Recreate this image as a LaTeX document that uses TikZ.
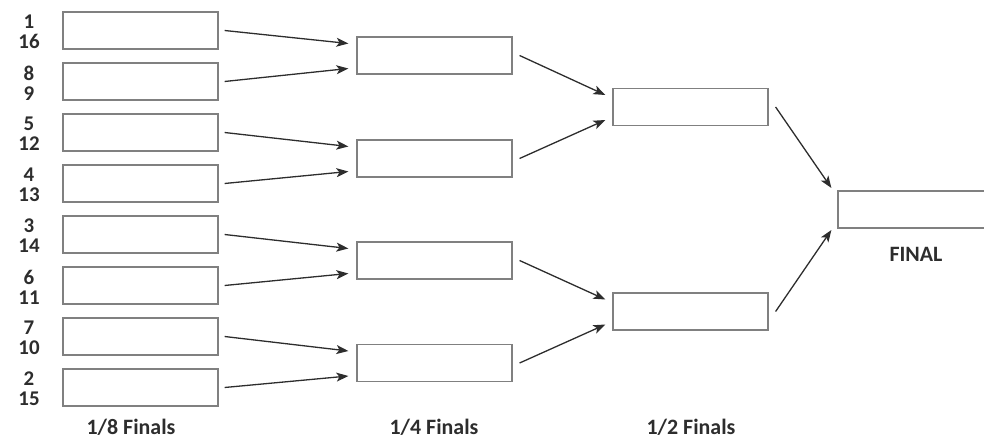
\documentclass[tikz,border=0pt]{standalone}
\usepackage{fontspec}
\setmainfont{Carlito}
\usepackage{xcolor}
\usepackage{tikz}
\usetikzlibrary{arrows.meta}
\definecolor{boxgray}{RGB}{128,128,128}
\definecolor{inkdark}{RGB}{45,45,45}

\begin{document}
\begin{tikzpicture}[
  x=1bp, y=-1bp,
  slot/.style={
    draw=boxgray, line width=1.2bp, minimum width=155bp,
    minimum height=37bp, inner sep=0pt
  },
  seed/.style={
    font=\fontsize{21}{20}\selectfont\bfseries, text=inkdark, align=center
  },
  roundlbl/.style={font=\fontsize{22}{24}\selectfont\bfseries, text=inkdark},
  arr/.style={-{Stealth[length=12bp, width=9bp, inset=3bp]}, line width=1.3bp, inkdark},
]
\useasboundingbox (0,0) rectangle (984,440);

%% ---- 1/8 finals (seeds and slots) ----
\foreach \i/\a/\b in {1/1/16, 2/8/9, 3/5/12, 4/4/13, 5/3/14, 6/6/11, 7/7/10, 8/2/15}{
  \node[slot] (e\i) at (140.5, {30.5+51*(\i-1)}) {};
  \node[seed] (n\i) at (29, {32+51*(\i-1)}) {\a\\\b};
}
\node[roundlbl] (c8) at (131, 427) {1/8 Finals};

%% ---- 1/4 finals ----
\foreach \j/\y in {1/55.5, 2/158.5, 3/260.5, 4/363}{
  \node[slot] (q\j) at (434.5, \y) {};
}
\node[roundlbl] (c4) at (434, 427) {1/4 Finals};

%% ---- 1/2 finals ----
\node[slot] (s1) at (690.5, 107) {};
\node[slot] (s2) at (690.5, 311.5) {};
\node[roundlbl] (c2) at (691, 427) {1/2 Finals};

%% ---- Final ----
\node[slot] (fin) at (915.5, 209.5) {};
\node[roundlbl] (cf) at (916, 254) {FINAL};

%% ---- Arrows: 1/8 -> 1/4 ----
\foreach \j in {1,...,4}{
  \pgfmathtruncatemacro\u{2*\j-1}
  \pgfmathtruncatemacro\l{2*\j}
  \draw[arr] ([xshift=6bp]e\u.east) -- ([xshift=-8bp, yshift=12bp]q\j.west);
  \draw[arr] ([xshift=6bp]e\l.east) -- ([xshift=-8bp, yshift=-13bp]q\j.west);
}

%% ---- Arrows: 1/4 -> 1/2 ----
\foreach \j/\u/\l in {1/1/2, 2/3/4}{
  \draw[arr] ([xshift=7bp]q\u.east) -- ([xshift=-7bp, yshift=12bp]s\j.west);
  \draw[arr] ([xshift=7bp]q\l.east) -- ([xshift=-7bp, yshift=-13bp]s\j.west);
}

%% ---- Arrows: 1/2 -> final ----
\draw[arr] ([xshift=7bp]s1.east) -- ([xshift=-6bp, yshift=21.5bp]fin.west);
\draw[arr] ([xshift=7bp]s2.east) -- ([xshift=-6bp, yshift=-20.5bp]fin.west);

\end{tikzpicture}
\end{document}
